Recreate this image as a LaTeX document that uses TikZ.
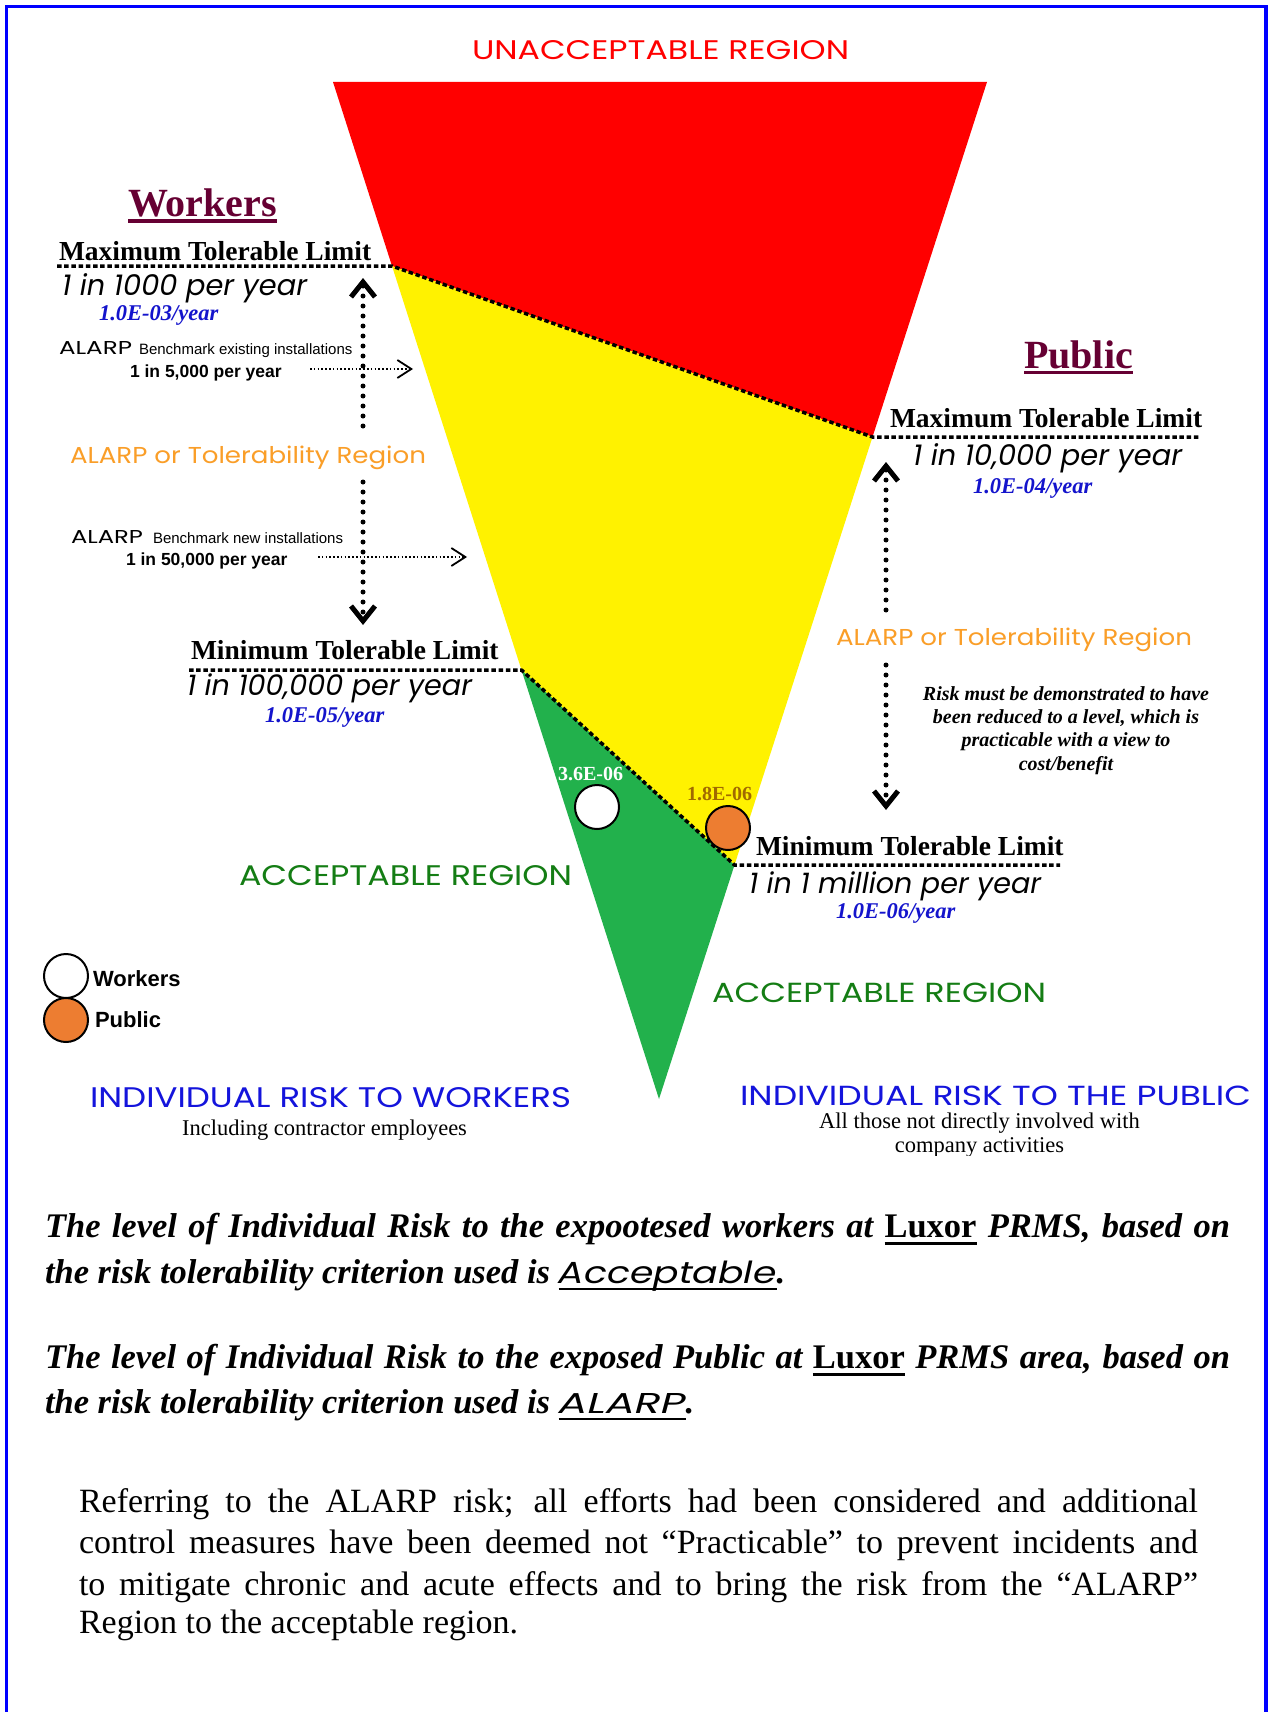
\documentclass[tikz,border=0pt]{standalone}
\usepackage{fontspec}
\setmainfont{Liberation Serif}
\newfontfamily\arial{Liberation Sans}
\newfontfamily\gothic{Poppins}
\usetikzlibrary{arrows.meta}
\definecolor{cRed}{RGB}{255,0,0}
\definecolor{cYel}{RGB}{255,242,0}
\definecolor{cGrn}{RGB}{34,177,76}
\definecolor{cOrg}{RGB}{237,125,49}
\definecolor{cMar}{RGB}{102,0,51}
\definecolor{cOrn}{RGB}{250,158,40}
\definecolor{cGtx}{RGB}{20,125,20}
\definecolor{cBlu}{RGB}{20,20,204}
\definecolor{cBlu2}{RGB}{20,20,220}
\definecolor{cGold}{RGB}{160,105,0}
\definecolor{cFrame}{RGB}{0,0,255}
\newcommand\fs[1]{\fontsize{#1}{#1}\selectfont}
\newcommand\gw[2]{\resizebox{#1}{!}{#2}}
\newcommand\gwh[3]{\resizebox{#1}{#2}{#3}}
\newcommand\myul[3]{\setbox0=\hbox{#3}\rlap{\rule[-#1]{\wd0}{#2}}\box0\relax}
\begin{document}
\begin{tikzpicture}[x=1pt,y=-1pt,
  txt/.style={inner sep=0pt,outer sep=0pt,anchor=base west},
  ctxt/.style={inner sep=0pt,outer sep=0pt,anchor=base},
  sqdot/.style={line width=3.5pt,dash pattern=on 4.5pt off 2.7pt},
  varr/.style={line width=5pt,line cap=round,dash pattern=on 0pt off 10pt,
    -{Straight Barb[length=15pt,width=24pt,line width=5pt]}},
  harr/.style={line width=1.6pt,dash pattern=on 1.6pt off 2.2pt,
    -{Straight Barb[length=14pt,width=18pt,line width=1.8pt]}},
  dot/.style={circle,draw=black,line width=2pt,minimum size=44pt,inner sep=0pt},
  limit/.style={txt,font={\fs{27.5}\bfseries}},
  freq/.style={txt,font={\gothic\itshape}},
  expo/.style={txt,text=cBlu,font={\fs{22.5}\bfseries\itshape}},
]
\useasboundingbox (0,0) rectangle (1271,1712);
\fill[white] (0,0) rectangle (1271,1712);

% frame
\coordinate (f1) at (6.5,1712);
\coordinate (f2) at (6.5,6.5);
\coordinate (f3) at (1266,6.5);
\coordinate (f4) at (1266,1712);
\draw[cFrame,line width=3.5pt] (f1) -- (f2) -- (f3) -- (f4);

% funnel
\coordinate (TL) at (333,82);
\coordinate (TR) at (987,82);
\coordinate (A) at (392,266);
\coordinate (B) at (872.5,437);
\coordinate (C) at (521.5,670);
\coordinate (D) at (734.5,865);
\coordinate (E) at (659,1099);
\fill[cRed] (TL) -- (TR) -- (B) -- (A) -- cycle;
\fill[cYel] (A) -- (B) -- (D) -- (C) -- cycle;
\fill[cGrn] (C) -- (D) -- (E) -- cycle;

% limit lines
\coordinate (WmaxL) at (57,266);
\coordinate (PmaxR) at (1200,437);
\coordinate (WminL) at (189,670);
\coordinate (PminR) at (1060,865);
\draw[sqdot] (WmaxL) -- (A) -- (B) -- (PmaxR);
\draw[sqdot] (WminL) -- (C) -- (D) -- (PminR);

% vertical arrows
\coordinate (wa1) at (363,426); \coordinate (wa1t) at (363,278);
\coordinate (wa2) at (363,482); \coordinate (wa2t) at (363,625);
\coordinate (pa1) at (886,610); \coordinate (pa1t) at (886,462);
\coordinate (pa2) at (886,665); \coordinate (pa2t) at (886,810);
\draw[varr] (wa1) -- (wa1t);
\draw[varr] (wa2) -- (wa2t);
\draw[varr] (pa1) -- (pa1t);
\draw[varr] (pa2) -- (pa2t);

% benchmark arrows
\coordinate (h1) at (310,369); \coordinate (h1t) at (413,369);
\coordinate (h2) at (318,557); \coordinate (h2t) at (467,557);
\draw[harr] (h1) -- (h1t);
\draw[harr] (h2) -- (h2t);

% risk points
\node[dot,fill=white] (wc) at (597,807) {};
\node[dot,fill=cOrg] (pc) at (728,828) {};
\node[txt,text=white,font={\fs{20}\bfseries}] (wv) at (558,780) {3.6E-06};
\node[txt,text=cGold,font={\fs{20}\bfseries}] (pv) at (687,800) {1.8E-06};

% top label
\node[txt,text=cRed,font=\gothic] (unacc) at (472,60) {\gwh{377pt}{19pt}{UNACCEPTABLE REGION}};

% titles
\node[txt,text=cMar,font={\fs{40}\bfseries}] (wt) at (128,217) {\myul{6pt}{3.5pt}{Workers}};
\node[txt,text=cMar,font={\fs{40}\bfseries}] (ptl) at (1024,368) {\myul{6pt}{3.5pt}{Public}};

% workers side
\node[limit] (wmax) at (59,261) {Maximum Tolerable Limit};
\node[freq] (wmaxv) at (62,295) {\gw{245pt}{1 in 1000 per year}};
\node[expo] (wmaxe) at (99,320) {1.0E-03/year};
\node[txt,font=\gothic] (b1a) at (59,354) {\gwh{73pt}{13pt}{ALARP}};
\node[txt,font={\arial\fs{15}}] (b1b) at (139,354) {Benchmark existing installations};
\node[txt,font={\arial\fs{17.5}\bfseries}] (b1c) at (130,377) {1 in 5,000 per year};
\node[txt,text=cOrn,font=\gothic] (wal) at (70,463) {\gwh{356pt}{17.5pt}{ALARP or Tolerability Region}};
\node[txt,font=\gothic] (b2a) at (71,543) {\gwh{72pt}{13pt}{ALARP}};
\node[txt,font={\arial\fs{15}}] (b2b) at (153,543) {Benchmark new installations};
\node[txt,font={\arial\fs{17.5}\bfseries}] (b2c) at (126,565) {1 in 50,000 per year};
\node[limit] (wmin) at (191,659) {Minimum Tolerable Limit};
\node[freq] (wminv) at (187,695) {\gw{285pt}{1 in 100,000 per year}};
\node[expo] (wmine) at (265,722) {1.0E-05/year};

% public side
\node[limit] (pmax) at (890,427) {Maximum Tolerable Limit};
\node[freq] (pmaxv) at (913,465) {\gw{269pt}{1 in 10,000 per year}};
\node[expo] (pmaxe) at (973,493) {1.0E-04/year};
\node[txt,text=cOrn,font=\gothic] (pal) at (836,645) {\gwh{356pt}{17.5pt}{ALARP or Tolerability Region}};
\node[ctxt,font={\fs{20}\bfseries\itshape}] (r1) at (1066,700) {Risk must be demonstrated to have};
\node[ctxt,font={\fs{20}\bfseries\itshape}] (r2) at (1066,723.3) {been reduced to a level, which is};
\node[ctxt,font={\fs{20}\bfseries\itshape}] (r3) at (1066,746.7) {practicable with a view to};
\node[ctxt,font={\fs{20}\bfseries\itshape}] (r4) at (1066,770) {cost/benefit};
\node[limit] (pmin) at (756,855) {Minimum Tolerable Limit};
\node[freq] (pminv) at (749,893) {\gw{292pt}{1 in 1 million per year}};
\node[expo] (pmine) at (836,918) {1.0E-06/year};

% acceptable labels
\node[txt,text=cGtx,font=\gothic] (acl) at (239,885) {\gwh{333pt}{20pt}{ACCEPTABLE REGION}};
\node[txt,text=cGtx,font=\gothic] (acr) at (712,1002) {\gwh{334pt}{19.5pt}{ACCEPTABLE REGION}};

% legend
\node[dot,fill=white] (lwc) at (66,976) {};
\node[dot,fill=cOrg] (lpc) at (66,1020) {};
\node[txt,font={\arial\fs{22}\bfseries}] (lw) at (93,986) {Workers};
\node[txt,font={\arial\fs{22}\bfseries}] (lp) at (95,1027) {Public};

% individual risk captions
\node[txt,text=cBlu2,font=\gothic] (irw) at (90,1107) {\gwh{481pt}{20pt}{INDIVIDUAL RISK TO WORKERS}};
\node[txt,text=cBlu2,font=\gothic] (irp) at (740,1105) {\gwh{511pt}{19.5pt}{INDIVIDUAL RISK TO THE PUBLIC}};
\node[ctxt,font={\fs{22.5}}] (inc) at (324.5,1135) {Including contractor employees};
\begin{scope}
\clip (700,1110) rectangle (1260,1155);
\node[ctxt,font={\fs{22.5}}] (all1) at (979.5,1128) {All those not directly involved with};
\node[ctxt,font={\fs{22.5}}] (all2) at (979.5,1152) {company activities};
\end{scope}

% conclusions
\node[txt,font={\fs{34.5}\bfseries\itshape}] (l1) at (45,1237) {\makebox[1185pt][s]{The level of Individual Risk to the expootesed workers at \myul{8pt}{3pt}{\upshape Luxor} PRMS, based on}};
\node[txt,font={\fs{34.5}\bfseries\itshape}] (l2) at (45,1283) {the risk tolerability criterion used is \myul{7pt}{2.5pt}{\gothic\mdseries\itshape\gwh{218pt}{22.5pt}{Acceptable}}.};
\node[txt,font={\fs{34.5}\bfseries\itshape}] (l3) at (45,1368) {\makebox[1185pt][s]{The level of Individual Risk to the exposed Public at \myul{8pt}{3pt}{\upshape Luxor} PRMS area, based on}};
\node[txt,font={\fs{34.5}\bfseries\itshape}] (l4) at (45,1413) {the risk tolerability criterion used is \myul{7pt}{2.5pt}{\gothic\mdseries\itshape\gwh{127pt}{20pt}{ALARP}}.};

% paragraph
\node[txt,font={\fs{34}}] (p1) at (79,1512) {\makebox[1119pt][s]{Referring to the ALARP risk; all efforts had been considered and additional}};
\node[txt,font={\fs{34}}] (p2) at (79,1553) {\makebox[1119pt][s]{control measures have been deemed not “Practicable” to prevent incidents and}};
\node[txt,font={\fs{34}}] (p3) at (79,1595) {\makebox[1119pt][s]{to mitigate chronic and acute effects and to bring the risk from the “ALARP”}};
\node[txt,font={\fs{34}}] (p4) at (79,1633) {Region to the acceptable region.};
\end{tikzpicture}
\end{document}
